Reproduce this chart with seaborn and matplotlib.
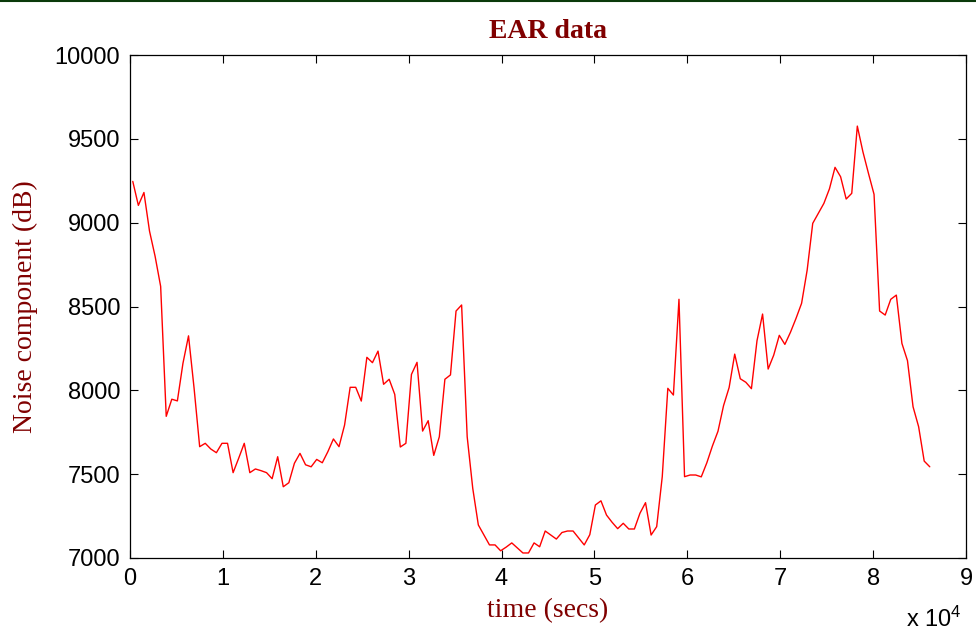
import matplotlib
matplotlib.use("Agg")
import matplotlib.pyplot as plt
from matplotlib.lines import Line2D
from matplotlib.ticker import FuncFormatter, MultipleLocator
import seaborn as sns
import pandas as pd

# time of each sample (seconds)
time_secs = [
    300, 900, 1500, 2100, 2700, 3300, 3900, 4500, 5100, 5700, 6300, 6900,
    7500, 8100, 8700, 9300, 9900, 10500, 11100, 11700, 12300, 12900, 13500, 14100,
    14700, 15300, 15900, 16500, 17100, 17700, 18300, 18900, 19500, 20100, 20700, 21300,
    21900, 22500, 23100, 23700, 24300, 24900, 25500, 26100, 26700, 27300, 27900, 28500,
    29100, 29700, 30300, 30900, 31500, 32100, 32700, 33300, 33900, 34500, 35100, 35700,
    36300, 36900, 37500, 38100, 38700, 39300, 39900, 40500, 41100, 41700, 42300, 42900,
    43500, 44100, 44700, 45300, 45900, 46500, 47100, 47700, 48300, 48900, 49500, 50100,
    50700, 51300, 51900, 52500, 53100, 53700, 54300, 54900, 55500, 56100, 56700, 57300,
    57900, 58500, 59100, 59700, 60300, 60900, 61500, 62100, 62700, 63300, 63900, 64500,
    65100, 65700, 66300, 66900, 67500, 68100, 68700, 69300, 69900, 70500, 71100, 71700,
    72300, 72900, 73500, 74100, 74700, 75300, 75900, 76500, 77100, 77700, 78300, 78900,
    79500, 80100, 80700, 81300, 81900, 82500, 83100, 83700, 84300, 84900, 85500, 86100,
]

# noise component (dB)
noise_db = [
    9246, 9103, 9180, 8950, 8800, 8620, 7845, 7947, 7937, 8161, 8325, 8012,
    7664, 7684, 7650, 7628, 7684, 7684, 7509, 7595, 7684, 7509, 7531, 7521,
    7509, 7473, 7604, 7425, 7449, 7565, 7624, 7556, 7544, 7588, 7568, 7634,
    7710, 7664, 7793, 8018, 8018, 7936, 8197, 8165, 8234, 8036, 8066, 7976,
    7662, 7684, 8095, 8167, 7757, 7819, 7612, 7723, 8066, 8092, 8473, 8509,
    7723, 7415, 7197, 7137, 7078, 7078, 7043, 7065, 7090, 7060, 7030, 7030,
    7090, 7067, 7161, 7137, 7113, 7152, 7161, 7161, 7120, 7078, 7139, 7316,
    7341, 7256, 7213, 7175, 7207, 7173, 7173, 7267, 7330, 7137, 7187, 7485,
    8012, 7972, 8543, 7485, 7495, 7495, 7484, 7568, 7668, 7756, 7909, 8017,
    8216, 8069, 8048, 8010, 8296, 8455, 8127, 8210, 8328, 8274, 8346, 8429,
    8519, 8717, 8996, 9056, 9115, 9202, 9330, 9274, 9141, 9175, 9576, 9423,
    9294, 9169, 8473, 8449, 8543, 8568, 8280, 8177, 7902, 7783, 7578, 7544,
]

title_text = "EAR data"
xlabel_text = "time (secs)"
ylabel_text = "Noise component (dB)"
x_limits = (0, 90000)
y_limits = (7000, 10000)

sns.set_theme(style="white")
plt.rcParams["font.family"] = ["Liberation Sans", "DejaVu Sans"]
plt.rcParams["mathtext.default"] = "regular"
plt.rcParams["mathtext.fontset"] = "custom"
plt.rcParams["mathtext.rm"] = "Liberation Sans"

df = pd.DataFrame({"time": time_secs, "noise": noise_db})

fig = plt.figure(figsize=(9.76, 6.34), dpi=100)
ax = fig.add_axes([130 / 976, 1 - 558 / 634, (966 - 130) / 976, (558 - 55) / 634])

sns.lineplot(data=df, x="time", y="noise", ax=ax, color="#ff0000",
             linewidth=1.0, estimator=None, sort=False)

ax.set_xlim(*x_limits)
ax.set_ylim(*y_limits)
ax.xaxis.set_major_locator(MultipleLocator(10000))
ax.yaxis.set_major_locator(MultipleLocator(500))
ax.xaxis.set_major_formatter(FuncFormatter(lambda v, p: f"{v / 1e4:g}"))
ax.yaxis.set_major_formatter(FuncFormatter(lambda v, p: f"{v:g}"))

for s in ax.spines.values():
    s.set_visible(True)
    s.set_color("black")
    s.set_linewidth(0.9)

ax.tick_params(axis="both", which="major", direction="in", length=6, width=0.8,
               color="black", top=True, right=True, bottom=True, left=True,
               labelsize=17, labelcolor="black", pad=7)
ax.grid(False)

serif = ["Liberation Serif", "DejaVu Serif"]
dark_red = "#800000"
ax.set_title(title_text, fontsize=20, fontweight="bold", color=dark_red,
             family=serif, pad=12)
ax.set_xlabel(xlabel_text, fontsize=20, color=dark_red, family=serif, labelpad=6)
ax.set_ylabel(ylabel_text, fontsize=20, color=dark_red, family=serif, labelpad=12)

fig.text(962 / 976, 2 / 634, "x 10$^{4}$", ha="right", va="bottom",
         fontsize=17, color="black")

# dark green rule across the top edge
fig.add_artist(Line2D([0, 1], [0.9985, 0.9985], transform=fig.transFigure,
                      color="#0a3a0a", linewidth=1.5))

fig.savefig("out.png", dpi=100)
